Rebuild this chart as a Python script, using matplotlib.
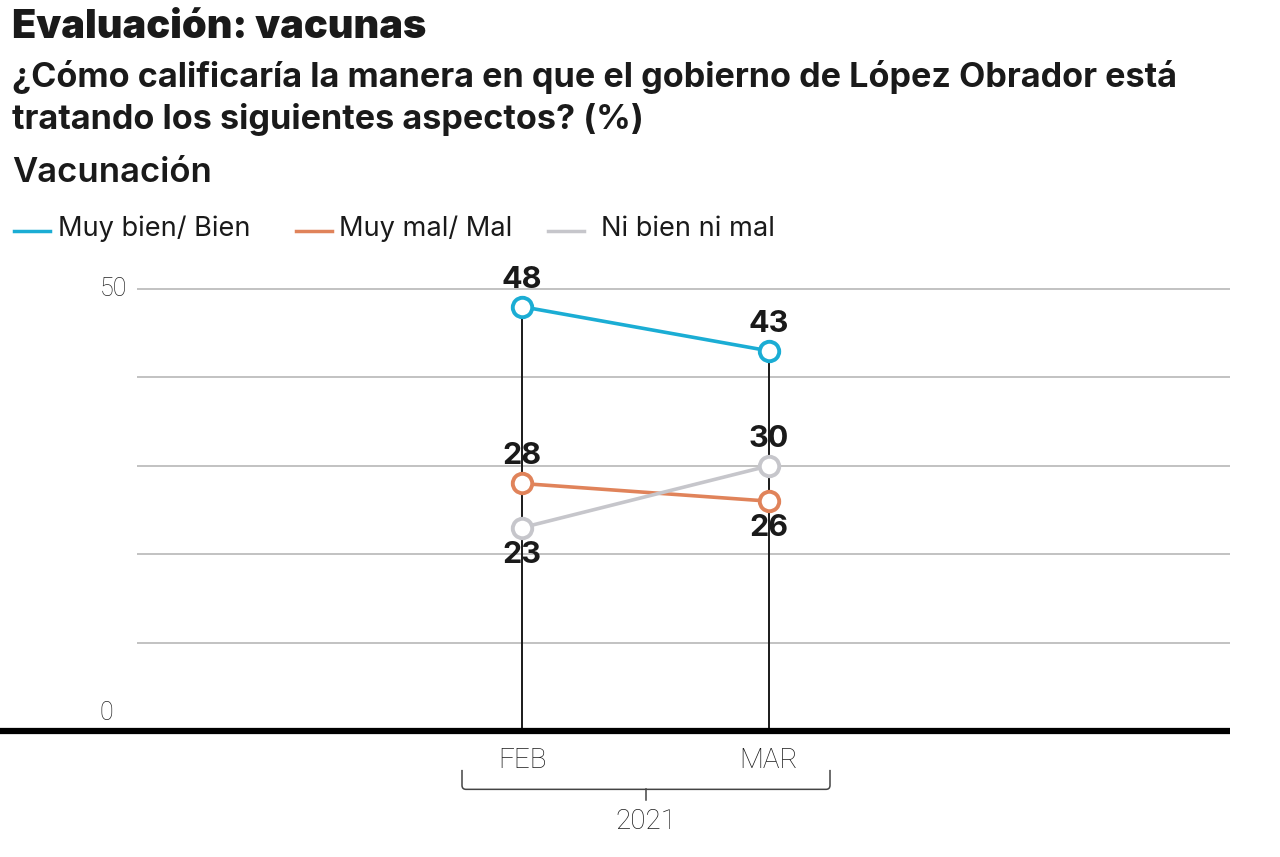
import numpy as np
import matplotlib.pyplot as plt
from matplotlib.path import Path
from matplotlib.patches import PathPatch

plt.rcParams['font.family'] = ['Inter', 'DejaVu Sans']

months = ['FEB', 'MAR']
year = '2021'
series_names = ['Muy bien/ Bien', 'Muy mal/ Mal', 'Ni bien ni mal']
muy_bien = [48, 43]
muy_mal = [28, 26]
ni_bien = [23, 30]
colors = ['#1badd4', '#e0835a', '#c6c6cb']
# label above (+1) or below (-1) each point
label_side = [[1, 1], [1, -1], [-1, 1]]

W, H = 1280, 857
fig = plt.figure(figsize=(W / 100, H / 100), dpi=100)


def fx(px):
    return px / W


def fy(py):
    return 1 - py / H


# axes: x=0 at px 522, x=1 at px 769 ; y=0 at py 731, y=50 at py 289
px_per_x = 769 - 522
px_per_y = (731 - 289) / 50
ax_left_px, ax_right_px = 0, 1230
y_top = 53
ax = fig.add_axes([fx(ax_left_px), fy(731), (ax_right_px - ax_left_px) / W,
                   y_top * px_per_y / H])
ax.set_xlim((ax_left_px - 522) / px_per_x, (ax_right_px - 522) / px_per_x)
ax.set_ylim(0, y_top)
ax.axis('off')

x = np.arange(len(months))
grid_start = (137 - 522) / px_per_x
for g in [10, 20, 30, 40, 50]:
    ax.hlines(g, grid_start, ax.get_xlim()[1], color='#bdbdbd', lw=1.3, zorder=1)
ax.hlines(0, ax.get_xlim()[0], ax.get_xlim()[1], color='black', lw=4.5,
          zorder=5, clip_on=False)

all_series = [muy_bien, muy_mal, ni_bien]
# vertical stems up to the highest value
tops = np.max(np.array(all_series), axis=0)
for xi, t in zip(x, tops):
    ax.vlines(xi, 0, t, color='#1a1a1a', lw=1.4, zorder=2)

for vals, c, sides in zip(all_series, colors, label_side):
    ax.plot(x, vals, color=c, lw=2.6, zorder=3)
    ax.plot(x, vals, 'o', ms=14, mfc='white', mec=c, mew=2.8, zorder=4)
    for xi, v, s in zip(x, vals, sides):
        ax.annotate(str(v), (xi, v), xytext=(0, 19.5 * s), textcoords='offset points',
                    ha='center', va='center', fontsize=22, fontweight='bold',
                    color='#1a1a1a', zorder=6)

ax.text(grid_start - 10 / px_per_x, 50, '50', ha='right', va='center',
        fontsize=18, fontweight='light', color='#222222', family=['Roboto'])
ax.text(grid_start - 24 / px_per_x, 2, '0', ha='right', va='center',
        fontsize=18, fontweight='light', color='#222222', family=['Roboto'])

for xi, m in zip(x, months):
    ax.text(xi, -3.3, m, ha='center', va='center', fontsize=20,
            fontweight='light', color='#1a1a1a', clip_on=False, family=['Roboto'])

# year bracket
bx0 = (462 - 522) / px_per_x
bx1 = (830 - 522) / px_per_x
by0 = -4.4
by1 = -6.6
r = 4 / px_per_x
ry = 4 / px_per_y
verts = [(bx0, by0), (bx0, by1 + ry), (bx0, by1), (bx0 + r, by1),
         (bx1 - r, by1), (bx1, by1), (bx1, by1 + ry), (bx1, by0)]
codes = [Path.MOVETO, Path.LINETO, Path.CURVE3, Path.CURVE3,
         Path.LINETO, Path.CURVE3, Path.CURVE3, Path.LINETO]
ax.add_patch(PathPatch(Path(verts, codes), fill=False, ec='#444444', lw=1.1,
                       clip_on=False))
bmid = (bx0 + bx1) / 2
ax.plot([bmid, bmid], [by1, by1 - 1.2], color='#444444', lw=1.1, clip_on=False)
ax.text(bmid, -10.2, year, ha='center', va='center', fontsize=20,
        fontweight='light', color='#1a1a1a', clip_on=False, family=['Roboto'])

# titles
fig.text(fx(12), fy(28), 'Evaluación: vacunas', fontsize=28.5, fontweight='black',
         color='#1a1a1a', va='center')
fig.text(fx(12), fy(77), '¿Cómo calificaría la manera en que el gobierno de López Obrador está',
         fontsize=24.6, fontweight='bold', color='#1a1a1a', va='center')
fig.text(fx(12), fy(119), 'tratando los siguientes aspectos? (%)',
         fontsize=24.6, fontweight='bold', color='#1a1a1a', va='center')
fig.text(fx(12), fy(173), 'Vacunación', fontsize=25, fontweight='semibold',
         color='#1a1a1a', va='center')

# legend
leg = [(14, 50, 58), (296, 332, 339), (548, 584, 601)]
for (l0, l1, tx), name, c in zip(leg, series_names, colors):
    fig.add_artist(plt.Line2D([fx(l0), fx(l1)], [fy(231), fy(231)], color=c, lw=2.5))
    fig.text(fx(tx), fy(229), name, fontsize=19.6, color='#1a1a1a', va='center')

fig.savefig('out.png', dpi=100, facecolor='white')
